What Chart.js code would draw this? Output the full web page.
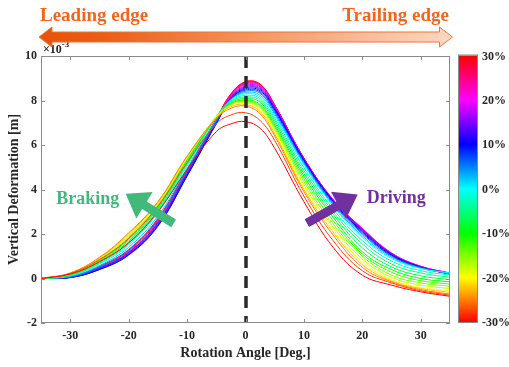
<!DOCTYPE html>
<html>
<head>
<meta charset="utf-8">
<script src="https://cdn.jsdelivr.net/npm/chart.js@4.4.1/dist/chart.umd.min.js"></script>
<style>
  html, body { margin: 0; background: #fff; }
  #wrap { width: 509px; height: 367px; }
</style>
</head>
<body>
<div id="wrap"><canvas id="deformChart"></canvas></div>
<script>
// rotation angle samples [deg]
const angles = [-35, -30, -25, -20, -15, -10, -5, -2.5, 0, 2.5, 5, 10, 15, 20, 25, 30, 35];
// slip ratio of each run [%]
const slips = [-30, -27.5, -25, -22.5, -20, -17.5, -15, -12.5, -10, -7.5, -5, -2.5, 0,
  2.5, 5, 7.5, 10, 12.5, 15, 17.5, 20, 22.5, 25, 27.5, 30];
// vertical deformation [x10^-3 m], one row per slip ratio
const deformation = [
  [0, 0.20, 0.75, 1.60, 3.00, 4.90, 6.60, 6.95, 7.05, 6.75, 5.85, 3.45, 1.40, 0.15, -0.30, -0.60, -0.80],
  [0, 0.22, 0.85, 1.80, 3.25, 5.20, 6.95, 7.35, 7.45, 7.10, 6.20, 3.70, 1.70, 0.35, -0.20, -0.55, -0.75],
  [0, 0.25, 0.95, 2.05, 3.45, 5.50, 7.20, 7.65, 7.75, 7.40, 6.40, 3.90, 1.95, 0.50, -0.15, -0.50, -0.70],
  [0, 0.24, 0.92, 2.00, 3.42, 5.48, 7.22, 7.72, 7.82, 7.50, 6.50, 4.00, 2.08, 0.62, -0.10, -0.45, -0.62],
  [0, 0.22, 0.90, 1.95, 3.40, 5.45, 7.25, 7.78, 7.90, 7.58, 6.60, 4.10, 2.20, 0.75, -0.05, -0.40, -0.55],
  [0, 0.21, 0.88, 1.90, 3.35, 5.42, 7.26, 7.80, 7.93, 7.64, 6.68, 4.22, 2.32, 0.88, 0.05, -0.30, -0.45],
  [0, 0.20, 0.85, 1.85, 3.30, 5.40, 7.27, 7.82, 7.96, 7.70, 6.75, 4.35, 2.45, 1.00, 0.15, -0.20, -0.35],
  [0, 0.19, 0.82, 1.80, 3.25, 5.35, 7.27, 7.84, 7.99, 7.76, 6.82, 4.48, 2.60, 1.10, 0.28, -0.10, -0.25],
  [0, 0.18, 0.80, 1.75, 3.20, 5.30, 7.27, 7.86, 8.02, 7.82, 6.90, 4.60, 2.75, 1.20, 0.40, 0.00, -0.15],
  [0, 0.16, 0.76, 1.68, 3.14, 5.24, 7.27, 7.90, 8.09, 7.92, 7.00, 4.72, 2.88, 1.38, 0.52, 0.12, -0.05],
  [0, 0.15, 0.72, 1.62, 3.08, 5.18, 7.27, 7.94, 8.16, 8.00, 7.10, 4.85, 3.00, 1.55, 0.65, 0.25, 0.05],
  [0, 0.13, 0.68, 1.56, 3.02, 5.12, 7.26, 7.98, 8.23, 8.08, 7.20, 4.98, 3.12, 1.70, 0.78, 0.35, 0.15],
  [0, 0.12, 0.65, 1.50, 2.95, 5.05, 7.25, 8.02, 8.30, 8.16, 7.30, 5.10, 3.25, 1.85, 0.90, 0.45, 0.25],
  [0, 0.10, 0.58, 1.40, 2.80, 4.95, 7.15, 8.04, 8.36, 8.24, 7.38, 5.15, 3.30, 1.92, 0.95, 0.46, 0.24],
  [0, 0.08, 0.52, 1.28, 2.65, 4.85, 7.08, 8.05, 8.42, 8.32, 7.45, 5.20, 3.35, 2.00, 1.00, 0.48, 0.22],
  [0, 0.06, 0.46, 1.16, 2.50, 4.72, 7.00, 8.06, 8.47, 8.38, 7.52, 5.25, 3.40, 2.05, 1.02, 0.49, 0.21],
  [0, 0.04, 0.40, 1.05, 2.35, 4.60, 6.95, 8.06, 8.52, 8.44, 7.58, 5.30, 3.45, 2.10, 1.05, 0.50, 0.20],
  [0, 0.045, 0.41, 1.08, 2.38, 4.63, 6.98, 8.10, 8.57, 8.50, 7.63, 5.32, 3.48, 2.14, 1.08, 0.51, 0.21],
  [0, 0.05, 0.42, 1.10, 2.42, 4.66, 7.00, 8.13, 8.62, 8.55, 7.67, 5.35, 3.50, 2.18, 1.10, 0.52, 0.22],
  [0, 0.055, 0.44, 1.12, 2.46, 4.70, 7.03, 8.16, 8.67, 8.60, 7.70, 5.38, 3.52, 2.22, 1.12, 0.54, 0.24],
  [0, 0.06, 0.45, 1.15, 2.50, 4.74, 7.06, 8.20, 8.72, 8.64, 7.74, 5.40, 3.55, 2.25, 1.15, 0.55, 0.25],
  [0, 0.065, 0.48, 1.18, 2.55, 4.78, 7.09, 8.23, 8.76, 8.67, 7.76, 5.40, 3.54, 2.24, 1.14, 0.54, 0.24],
  [0, 0.07, 0.50, 1.22, 2.60, 4.82, 7.12, 8.26, 8.79, 8.70, 7.78, 5.40, 3.52, 2.22, 1.12, 0.52, 0.22],
  [0, 0.075, 0.52, 1.26, 2.65, 4.86, 7.15, 8.28, 8.82, 8.72, 7.79, 5.40, 3.51, 2.21, 1.11, 0.51, 0.21],
  [0, 0.08, 0.55, 1.30, 2.70, 4.90, 7.18, 8.30, 8.85, 8.74, 7.80, 5.40, 3.50, 2.20, 1.10, 0.50, 0.20]
];
const xTicks = [-30, -20, -10, 0, 10, 20, 30];
const yTicks = [-2, 0, 2, 4, 6, 8, 10];
const barTicks = ['30%', '20%', '10%', '0%', '-10%', '-20%', '-30%'];

const SERIF = '"Liberation Serif", "Times New Roman", serif';
const ORANGE = '#f0661f';
const GREEN = '#41b97b';
const PURPLE = '#7030a0';

// hsv colour map: -30% red -> yellow -> green -> cyan -> blue -> magenta -> 30% red
function slipColor(s) {
  return 'hsl(' + ((s + 30) * 6) + ', 100%, 50%)';
}

function drawArrow(ctx, x0, y0, x1, y1, shaftW, headW, headL, color) {
  const dx = x1 - x0, dy = y1 - y0;
  const len = Math.hypot(dx, dy);
  const ux = dx / len, uy = dy / len;
  const nx = -uy, ny = ux;
  const bx = x1 - ux * headL, by = y1 - uy * headL;
  ctx.beginPath();
  ctx.moveTo(x0 + nx * shaftW / 2, y0 + ny * shaftW / 2);
  ctx.lineTo(bx + nx * shaftW / 2, by + ny * shaftW / 2);
  ctx.lineTo(bx + nx * headW / 2, by + ny * headW / 2);
  ctx.lineTo(x1, y1);
  ctx.lineTo(bx - nx * headW / 2, by - ny * headW / 2);
  ctx.lineTo(bx - nx * shaftW / 2, by - ny * shaftW / 2);
  ctx.lineTo(x0 - nx * shaftW / 2, y0 - ny * shaftW / 2);
  ctx.closePath();
  ctx.fillStyle = color;
  ctx.fill();
}

const decor = {
  id: 'decor',
  beforeDraw(chart) {
    const ctx = chart.ctx;
    ctx.save();
    ctx.fillStyle = '#fff';
    ctx.fillRect(0, 0, chart.width, chart.height);
    ctx.restore();
  },
  afterDatasetsDraw(chart) {
    const ctx = chart.ctx;
    const { left, right, top, bottom } = chart.chartArea;
    const xs = chart.scales.x, ys = chart.scales.y;
    ctx.save();

    // contact centre line
    const x0 = Math.round(xs.getPixelForValue(0));
    ctx.strokeStyle = '#2b2b2b';
    ctx.lineWidth = 3.5;
    ctx.setLineDash([12, 8]);
    ctx.beginPath();
    ctx.moveTo(x0, top);
    ctx.lineTo(x0, bottom);
    ctx.stroke();
    ctx.setLineDash([]);

    // axes box with inward ticks
    ctx.strokeStyle = '#8a8a8a';
    ctx.lineWidth = 1;
    ctx.strokeRect(left + 0.5, top + 0.5, right - left - 1, bottom - top - 1);
    ctx.beginPath();
    xTicks.forEach(v => {
      const p = Math.round(xs.getPixelForValue(v)) + 0.5;
      ctx.moveTo(p, bottom); ctx.lineTo(p, bottom - 4);
      ctx.moveTo(p, top); ctx.lineTo(p, top + 4);
    });
    yTicks.forEach(v => {
      const p = Math.round(ys.getPixelForValue(v)) + 0.5;
      ctx.moveTo(left, p); ctx.lineTo(left + 4, p);
      ctx.moveTo(right, p); ctx.lineTo(right - 4, p);
    });
    ctx.stroke();

    // braking / driving arrows
    drawArrow(ctx, xs.getPixelForValue(-12.3), ys.getPixelForValue(2.48),
      xs.getPixelForValue(-20.5), ys.getPixelForValue(3.81), 9, 31, 22, GREEN);
    drawArrow(ctx, xs.getPixelForValue(10.5), ys.getPixelForValue(2.49),
      xs.getPixelForValue(19.2), ys.getPixelForValue(3.77), 9, 31, 22, PURPLE);

    ctx.font = 'bold 18px ' + SERIF;
    ctx.textAlign = 'center';
    ctx.textBaseline = 'middle';
    ctx.fillStyle = GREEN;
    ctx.fillText('Braking', xs.getPixelForValue(-27.0), ys.getPixelForValue(3.54));
    ctx.fillStyle = PURPLE;
    ctx.fillText('Driving', xs.getPixelForValue(25.8), ys.getPixelForValue(3.59));
    ctx.restore();
  },
  afterDraw(chart) {
    const ctx = chart.ctx;
    const { left, top } = chart.chartArea;
    ctx.save();

    // exponent label
    ctx.fillStyle = '#262626';
    ctx.textBaseline = 'alphabetic';
    ctx.textAlign = 'left';
    ctx.font = 'bold 12px ' + SERIF;
    ctx.fillText('\u00d710', left + 2, top - 3);
    const w = ctx.measureText('\u00d710').width;
    ctx.font = 'bold 9px ' + SERIF;
    ctx.fillText('-3', left + 2 + w, top - 9);

    // colour bar
    const cbL = 459, cbR = 477, cbT = 55.5, cbB = 322;
    const g = ctx.createLinearGradient(0, cbB, 0, cbT);
    [0, 60, 120, 180, 240, 300, 360].forEach((h, i) => {
      g.addColorStop(i / 6, 'hsl(' + h + ', 100%, 50%)');
    });
    ctx.fillStyle = g;
    ctx.fillRect(cbL, cbT, cbR - cbL, cbB - cbT);
    ctx.strokeStyle = '#8a8a8a';
    ctx.lineWidth = 1;
    ctx.strokeRect(cbL - 0.5, cbT - 0.5, cbR - cbL + 1, cbB - cbT + 1);
    ctx.fillStyle = '#262626';
    ctx.font = 'bold 12px ' + SERIF;
    ctx.textBaseline = 'middle';
    barTicks.forEach((t, i) => {
      const y = cbT + (cbB - cbT) * i / (barTicks.length - 1) + 1;
      ctx.fillText(t, 482, y);
    });

    // leading / trailing edge double arrow
    const aL = 39, aR = 452.5, cy = 37, hh = 10, bh = 5, hl = 13;
    const ag = ctx.createLinearGradient(aL, 0, aR, 0);
    ag.addColorStop(0, '#e8520a');
    ag.addColorStop(0.15, '#ec5c14');
    ag.addColorStop(0.55, '#f59a68');
    ag.addColorStop(1, '#fcd9c3');
    ctx.beginPath();
    ctx.moveTo(aL, cy);
    ctx.lineTo(aL + hl, cy - hh);
    ctx.lineTo(aL + hl, cy - bh);
    ctx.lineTo(aR - hl, cy - bh);
    ctx.lineTo(aR - hl, cy - hh);
    ctx.lineTo(aR, cy);
    ctx.lineTo(aR - hl, cy + hh);
    ctx.lineTo(aR - hl, cy + bh);
    ctx.lineTo(aL + hl, cy + bh);
    ctx.lineTo(aL + hl, cy + hh);
    ctx.closePath();
    ctx.fillStyle = ag;
    ctx.fill();
    ctx.strokeStyle = '#f07436';
    ctx.lineWidth = 1;
    ctx.stroke();

    ctx.fillStyle = ORANGE;
    ctx.font = 'bold 19px ' + SERIF;
    ctx.textBaseline = 'alphabetic';
    ctx.textAlign = 'left';
    ctx.fillText('Leading edge', 40, 21);
    ctx.textAlign = 'right';
    ctx.fillText('Trailing edge', 449, 21);
    ctx.restore();
  }
};

const datasets = slips.map((s, i) => ({
  label: s + '%',
  data: angles.map((a, j) => ({ x: a, y: deformation[i][j] })),
  borderColor: slipColor(s),
  borderWidth: 1,
  pointRadius: 0,
  fill: false,
  tension: 0.4
}));

const tickFont = { family: SERIF, size: 12, weight: 'bold' };
const titleFont = { family: SERIF, size: 14, weight: 'bold' };

new Chart(document.getElementById('deformChart'), {
  type: 'line',
  data: { datasets },
  options: {
    responsive: true,
    maintainAspectRatio: false,
    animation: false,
    layout: { padding: { top: 56, right: 59, left: 0, bottom: 0 } },
    plugins: { legend: { display: false }, tooltip: { enabled: false } },
    scales: {
      x: {
        type: 'linear',
        min: -35,
        max: 35,
        grid: { display: false, drawTicks: false },
        border: { display: false },
        afterBuildTicks: s => { s.ticks = xTicks.map(v => ({ value: v })); },
        afterFit: s => { s.height = 44; },
        ticks: { color: '#262626', font: tickFont, padding: 6, maxRotation: 0 },
        title: {
          display: true,
          text: 'Rotation Angle [Deg.]',
          color: '#262626',
          font: titleFont,
          padding: { top: 0, bottom: 5 }
        }
      },
      y: {
        min: -2,
        max: 10,
        grid: { display: false, drawTicks: false },
        border: { display: false },
        afterBuildTicks: s => { s.ticks = yTicks.map(v => ({ value: v })); },
        afterFit: s => { s.width = 41; },
        ticks: { color: '#262626', font: tickFont, padding: 4 },
        title: {
          display: true,
          text: 'Vertical Deformation [m]',
          color: '#262626',
          font: titleFont,
          padding: { top: 6, bottom: 0 }
        }
      }
    }
  },
  plugins: [decor]
});
</script>
</body>
</html>
